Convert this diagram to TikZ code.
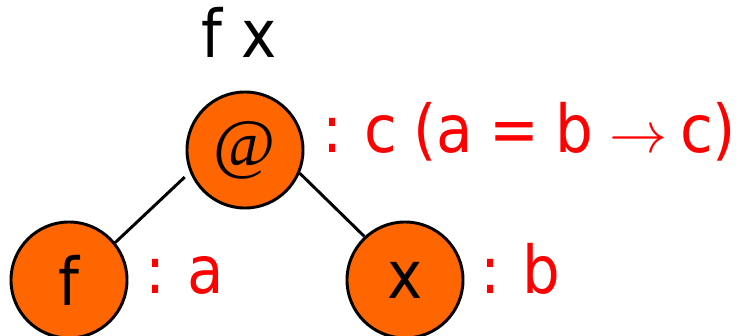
\documentclass[tikz,border=0pt]{standalone}
\usepackage{fontspec}
\setmainfont{DejaVu Sans}[FakeStretch=0.9]
\newfontfamily\atfont{Liberation Serif}
\usepackage{graphicx}
\usepackage{xcolor}
\usepackage{tikz}
\usetikzlibrary{positioning}
\definecolor{nodeorange}{HTML}{FF6600}
\definecolor{typered}{HTML}{FF0000}
\newcommand{\typearrow}{\resizebox{1.45cm}{!}{$\rightarrow$}\hspace{9pt}}
\newcommand{\typefont}{\fontsize{47}{50}\selectfont\spaceskip=11.5pt\relax}
\tikzset{
  tnode/.style={circle,draw,line width=2.1pt,fill=nodeorange,minimum size=2.9cm,inner sep=0pt,font=\fontsize{47}{50}\selectfont},
  tlbl/.style={anchor=base west,inner sep=0pt,text=typered,font=\typefont},
  edge/.style={line width=2.1pt},
}
\begin{document}
\begin{tikzpicture}[x=0.025cm,y=-0.025cm]
\useasboundingbox (0,0) rectangle (739,336);
\node[inner sep=0pt,anchor=base,font=\fontsize{47}{50}\selectfont] (expr) at (239,57) {f x};
\node[tnode] (app) at (245,150) {\atfont\fontsize{48}{56}\selectfont @};
\node[tnode] (fun) at (69,280) {f};
\node[tnode] (arg) at (405,280) {x};
\draw[edge,shorten <=5pt] (app.202) -- (fun.39);
\draw[edge] (app.337) -- (arg.133);
\node[tlbl] (apptype) at (322,152) {: c (a = b \typearrow c)};
\node[tlbl] (funtype) at (145,293) {: a};
\node[tlbl] (argtype) at (480,293) {: b};
\end{tikzpicture}
\end{document}
